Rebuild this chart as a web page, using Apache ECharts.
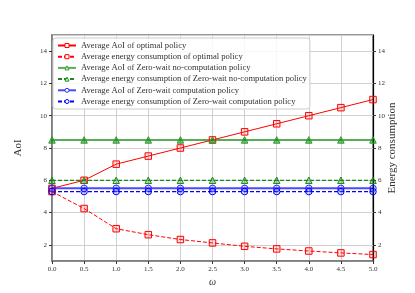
<!DOCTYPE html>
<html><head><meta charset="utf-8">
<script src="https://cdn.jsdelivr.net/npm/echarts@6/dist/echarts.min.js"></script>
<style>html,body{margin:0;padding:0;background:#fff}#c{width:415px;height:293px}</style>
</head><body><div id="c"></div>
<script>
const omega = [0.0, 0.5, 1.0, 1.5, 2.0, 2.5, 3.0, 3.5, 4.0, 4.5, 5.0];
const aoiOptimal = [5.5, 6.0, 7.0, 7.5, 8.0, 8.5, 9.0, 9.5, 10.0, 10.5, 11.0];
const energyOptimal = [5.3, 4.25, 3.0, 2.63, 2.33, 2.12, 1.91, 1.75, 1.62, 1.5, 1.4];
const aoiZwNoComp = [8.5, 8.5, 8.5, 8.5, 8.5, 8.5, 8.5, 8.5, 8.5, 8.5, 8.5];
const energyZwNoComp = [6.0, 6.0, 6.0, 6.0, 6.0, 6.0, 6.0, 6.0, 6.0, 6.0, 6.0];
const aoiZwComp = [5.5, 5.5, 5.5, 5.5, 5.5, 5.5, 5.5, 5.5, 5.5, 5.5, 5.5];
const energyZwComp = [5.3, 5.3, 5.3, 5.3, 5.3, 5.3, 5.3, 5.3, 5.3, 5.3, 5.3];
const names = [
  'Average AoI of optimal policy',
  'Average energy consumption of optimal policy',
  'Average AoI of Zero-wait no-computation policy',
  'Average energy consumption of Zero-wait no-computation policy',
  'Average AoI of Zero-wait computation policy',
  'Average energy consumption of Zero-wait computation policy'
];
const FONT = 'Liberation Serif';
const pair = arr => omega.map((x, i) => [x, arr[i]]);
const styles = [
  { color: '#ff0000', fill: 'rgba(255,0,0,0.12)', symbol: 'rect', dashed: false, width: 1, opacity: 1 },
  { color: '#ff0000', fill: 'rgba(255,0,0,0.12)', symbol: 'rect', dashed: true, width: 1, opacity: 1 },
  { color: '#2e9a2e', fill: 'rgba(0,128,0,0.5)', symbol: 'triangle', dashed: false, width: 2, opacity: 0.8 },
  { color: '#1a8a1a', fill: 'rgba(0,128,0,0.3)', symbol: 'triangle', dashed: true, width: 1.2, opacity: 1 },
  { color: '#2a2aff', fill: 'rgba(0,0,255,0.12)', symbol: 'circle', dashed: false, width: 2, opacity: 0.85 },
  { color: '#0000ff', fill: 'rgba(0,0,255,0.12)', symbol: 'circle', dashed: true, width: 1.2, opacity: 1 }
];
const seriesData = [aoiOptimal, energyOptimal, aoiZwNoComp, energyZwNoComp, aoiZwComp, energyZwComp];
const axes = [0, 1, 0, 1, 0, 1];
function mk(i) {
  const s = styles[i];
  return {
    name: names[i], type: 'line', yAxisIndex: axes[i], data: pair(seriesData[i]),
    symbol: s.symbol, symbolSize: 6.5, clip: false,
    lineStyle: { color: s.color, width: s.width, type: s.dashed ? [4, 2] : 'solid', opacity: s.opacity },
    itemStyle: { color: s.fill, borderColor: s.color, borderWidth: 1 },
    emphasis: { disabled: true }, animation: false
  };
}
const chart = echarts.init(document.getElementById('c'), null, { renderer: 'canvas' });
const yCommon = {
  type: 'value', min: 1, max: 15, splitNumber: 7,
  axisLabel: { fontFamily: FONT, fontSize: 7, color: '#333', showMinLabel: false, showMaxLabel: false, margin: 5 },
  axisTick: { show: true, length: 3, lineStyle: { color: '#333' } },
  nameLocation: 'middle', nameRotate: 90, nameMoveOverlap: false,
  nameTextStyle: { fontFamily: FONT, fontSize: 11, color: '#333' }
};
chart.setOption({
  animation: false,
  grid: { left: 52, right: 42, top: 35, bottom: 32, show: true, borderColor: '#777', borderWidth: 1.5, backgroundColor: 'transparent' },
  xAxis: {
    type: 'value', min: 0, max: 5, interval: 0.5,
    name: 'ω', nameLocation: 'middle', nameGap: 16, nameMoveOverlap: false,
    nameTextStyle: { fontFamily: FONT, fontSize: 10, fontStyle: 'italic', color: '#333' },
    axisLine: { lineStyle: { color: '#777', width: 1.5 } },
    axisTick: { length: 3, lineStyle: { color: '#333' } },
    axisLabel: { fontFamily: FONT, fontSize: 7, color: '#333', margin: 5, formatter: v => v.toFixed(1) },
    splitLine: { lineStyle: { color: '#d0d0d0', width: 1 } }
  },
  yAxis: [
    Object.assign({}, yCommon, {
      position: 'left', name: 'AoI', nameGap: 28,
      axisLine: { show: true, lineStyle: { color: '#777', width: 1.5 } },
      splitLine: { lineStyle: { color: '#d0d0d0', width: 1 } }
    }),
    Object.assign({}, yCommon, {
      position: 'right', name: 'Energy consumption', nameGap: 14,
      axisLine: { show: true, lineStyle: { color: '#000', width: 1.2 } },
      splitLine: { show: false }
    })
  ],
  legend: {
    orient: 'vertical', left: 53, top: 38,
    itemWidth: 18, itemHeight: 5, itemGap: 2.2,
    padding: [3, 3, 3, 4],
    borderColor: '#cccccc', borderWidth: 1, borderRadius: 3,
    backgroundColor: 'rgba(255,255,255,0.85)',
    textStyle: { fontFamily: FONT, fontSize: 8.6, lineHeight: 9, color: '#333' },
    data: names.map((n, i) => ({
      name: n,
      itemStyle: { color: '#fff', borderColor: styles[i].color, borderWidth: 1 }
    }))
  },
  series: [0, 1, 2, 3, 4, 5].map(mk)
});
</script></body></html>
